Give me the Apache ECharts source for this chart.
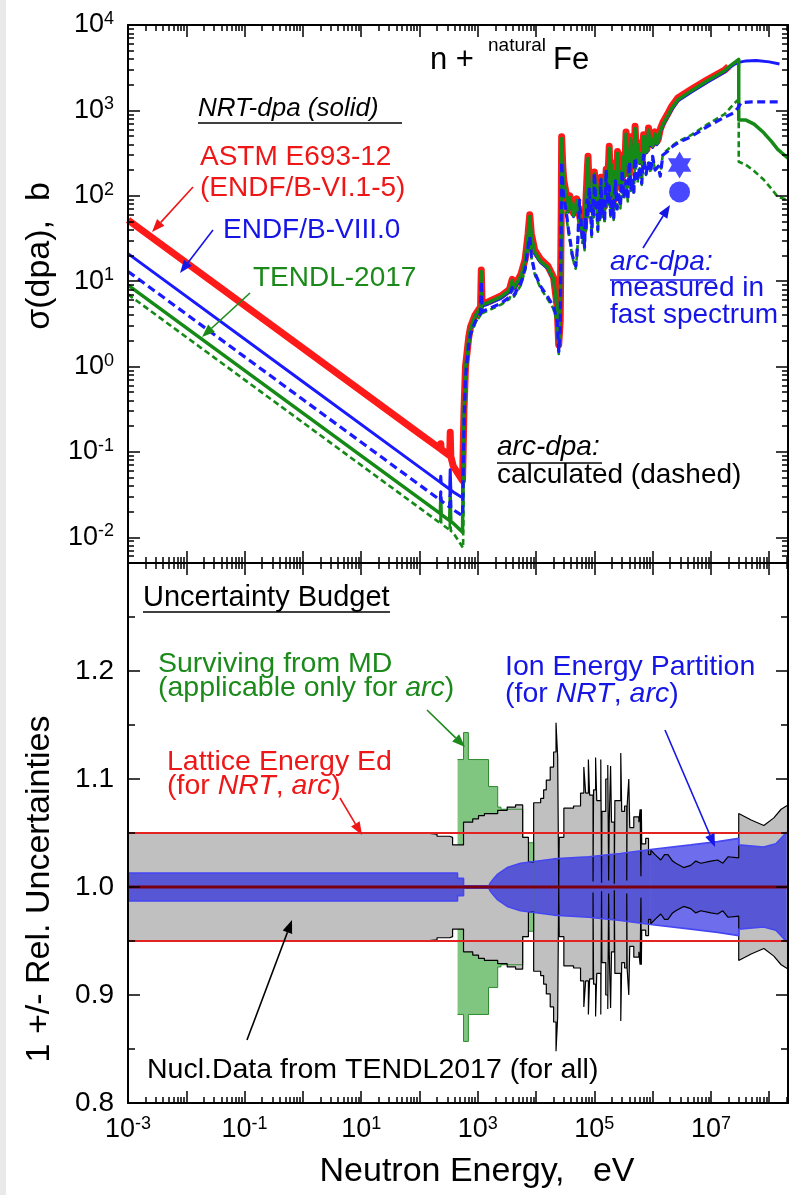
<!DOCTYPE html>
<html>
<head>
<meta charset="utf-8">
<title>n + natural Fe: dpa cross sections and uncertainty budget</title>
<script src="https://cdn.jsdelivr.net/npm/echarts@6/dist/echarts.min.js"></script>
<style>
  html, body { margin: 0; padding: 0; background: #fff; }
  #chart { width: 792px; height: 1195px; }
</style>
</head>
<body>
<div id="chart"></div>
<script>
// ---------------- axis ranges ----------------
const E_MIN = 1e-3, E_MAX = 2.1e8;        // neutron energy, eV
const SIG_MIN = 0.005, SIG_MAX = 1e4;     // sigma(dpa), b
const REL_MIN = 0.8, REL_MAX = 1.3;       // 1 +/- relative uncertainty

// tick positions (decade exponents / linear values)
const xDecades = [-3, -2, -1, 0, 1, 2, 3, 4, 5, 6, 7, 8];
const xLabelDecades = [-3, -1, 1, 3, 5, 7];
const yDecades = [-2, -1, 0, 1, 2, 3, 4];
const relMajor = [0.8, 0.9, 1.0, 1.1, 1.2, 1.3];
const relMinor = [0.85, 0.95, 1.05, 1.15, 1.25];
const relLabels = [0.8, 0.9, 1.0, 1.1, 1.2];

// ---------------- upper panel: sigma(dpa) [E (eV), b] ----------------
// NRT-dpa, ASTM E693-12 (ENDF/B-VI.1-5)
const astmNrt = [
  [1e-3, 52], [1, 1.64], [100, 0.164], [228, 0.109], [232, 0.125], [236, 0.107], [330, 0.0905], [337, 0.17], [345, 0.0885], [380, 0.068],
  [548, 0.046], [580, 0.3], [616, 1.0], [700, 2.2], [751, 2.9], [900, 4.0], [1117, 5.0], [1150, 13.5], [1185, 5.4], [1500, 5.7],
  [2500, 6.7], [3500, 8.0], [3900, 10.5], [4200, 8.6], [5500, 12], [6500, 18], [7300, 36], [7800, 60], [8300, 36], [9500, 23],
  [1.2e4, 18], [1.6e4, 15], [2.0e4, 11], [2.3e4, 5], [2.45e4, 1.8], [2.6e4, 3.5], [2.7e4, 60],
  [2.75e4, 490], [2.85e4, 260], [2.9e4, 200], [3.0e4, 150], [3.2e4, 117], [3.4e4, 90], [3.6e4, 69], [3.8e4, 100], [4.0e4, 85], [4.2e4, 72],
  [4.4e4, 62], [4.7e4, 75], [5.0e4, 92], [5.2e4, 70], [5.5e4, 62], [5.8e4, 50], [6.0e4, 44], [6.3e4, 52], [6.5e4, 38], [6.8e4, 48],
  [7.0e4, 62], [7.2e4, 95], [7.4e4, 140], [7.6e4, 210], [7.8e4, 290], [8.0e4, 170], [8.2e4, 125], [8.5e4, 95], [8.8e4, 76], [9.2e4, 90],
  [9.5e4, 105], [9.8e4, 140], [1.0e5, 190], [1.05e5, 130], [1.1e5, 112], [1.15e5, 80], [1.2e5, 97], [1.25e5, 130], [1.3e5, 165], [1.35e5, 95],
  [1.4e5, 122], [1.5e5, 75], [1.6e5, 205], [1.7e5, 140], [1.8e5, 380], [1.87e5, 150], [1.95e5, 245], [2.0e5, 110], [2.1e5, 170], [2.2e5, 90],
  [2.3e5, 205], [2.4e5, 130], [2.5e5, 330], [2.65e5, 150], [2.8e5, 200], [2.95e5, 120], [3.1e5, 300], [3.3e5, 180], [3.5e5, 560], [3.65e5, 250],
  [3.8e5, 330], [4.0e5, 180], [4.2e5, 490], [4.4e5, 260], [4.6e5, 350], [4.8e5, 230], [5.0e5, 650], [5.25e5, 300], [5.5e5, 420], [5.9e5, 260],
  [6.3e5, 330], [6.6e5, 250], [7.0e5, 520], [7.3e5, 330], [7.6e5, 450], [8.0e5, 350], [8.5e5, 620], [9.0e5, 420], [9.5e5, 480], [1.0e6, 400],
  [1.1e6, 560], [1.18e6, 430], [1.25e6, 460], [1.35e6, 600], [1.5e6, 720],
  [1.8e6, 900], [2.1e6, 1100], [2.7e6, 1400], [4.5e6, 1740], [8.8e6, 2300], [1.7e7, 2950], [2.0e7, 3250]
];
// NRT-dpa, ENDF/B-VIII.0
const endf8Nrt = [
  [1e-3, 21], [1, 0.664], [100, 0.0664], [228, 0.044], [232, 0.052], [236, 0.0432], [330, 0.0366], [337, 0.062], [345, 0.0358], [380, 0.034],
  [548, 0.029], [580, 0.25], [616, 0.9], [700, 2.0], [751, 2.7], [900, 3.8], [1117, 4.7], [1150, 12.5], [1185, 5.1], [1500, 5.4],
  [2500, 6.3], [3500, 7.5], [3900, 9.8], [4200, 8.1], [5500, 11], [6500, 17], [7300, 33], [7800, 55], [8300, 33], [9500, 21],
  [1.2e4, 16.5], [1.6e4, 14], [2.0e4, 10.2], [2.3e4, 4.6], [2.45e4, 1.6], [2.6e4, 3.2], [2.7e4, 55],
  [2.75e4, 450], [2.85e4, 240], [2.9e4, 185], [3.0e4, 138], [3.2e4, 108], [3.4e4, 83], [3.6e4, 64], [3.8e4, 92], [4.0e4, 78], [4.2e4, 66],
  [4.4e4, 57], [4.7e4, 69], [5.0e4, 85], [5.2e4, 64], [5.5e4, 57], [5.8e4, 46], [6.0e4, 40], [6.3e4, 48], [6.5e4, 35], [6.8e4, 44],
  [7.0e4, 57], [7.2e4, 87], [7.4e4, 128], [7.6e4, 193], [7.8e4, 265], [8.0e4, 156], [8.2e4, 115], [8.5e4, 87], [8.8e4, 70], [9.2e4, 83],
  [9.5e4, 96], [9.8e4, 128], [1.0e5, 175], [1.05e5, 120], [1.1e5, 103], [1.15e5, 74], [1.2e5, 89], [1.25e5, 120], [1.3e5, 152], [1.35e5, 87],
  [1.4e5, 112], [1.5e5, 69], [1.6e5, 188], [1.7e5, 129], [1.8e5, 350], [1.87e5, 138], [1.95e5, 225], [2.0e5, 101], [2.1e5, 156], [2.2e5, 83],
  [2.3e5, 188], [2.4e5, 120], [2.5e5, 305], [2.65e5, 138], [2.8e5, 184], [2.95e5, 110], [3.1e5, 276], [3.3e5, 166], [3.5e5, 515], [3.65e5, 230],
  [3.8e5, 304], [4.0e5, 166], [4.2e5, 450], [4.4e5, 239], [4.6e5, 322], [4.8e5, 212], [5.0e5, 600], [5.25e5, 276], [5.5e5, 386], [5.9e5, 239],
  [6.3e5, 304], [6.6e5, 230], [7.0e5, 478], [7.3e5, 304], [7.6e5, 414], [8.0e5, 322], [8.5e5, 570], [9.0e5, 386], [9.5e5, 442], [1.0e6, 368],
  [1.1e6, 515], [1.18e6, 396], [1.25e6, 423], [1.35e6, 552], [1.5e6, 662],
  [1.8e6, 830], [2.1e6, 1010], [2.7e6, 1290], [4.5e6, 1620], [8.8e6, 2150], [1.7e7, 2800], [2.0e7, 3100],
  [2.5e7, 3450], [3.0e7, 3650], [4.0e7, 3800], [6.0e7, 3850], [1.0e8, 3700], [1.5e8, 3500]
];
// NRT-dpa, TENDL-2017
const tendlNrt = [
  [1e-3, 9], [1, 0.285], [100, 0.0285], [228, 0.0189], [232, 0.028], [236, 0.0185], [330, 0.0157], [337, 0.03], [345, 0.0153], [380, 0.0146],
  [548, 0.0115], [580, 0.28], [616, 0.95], [700, 2.1], [751, 2.8], [900, 3.9], [1117, 4.9], [1150, 13], [1185, 5.3], [1500, 5.6],
  [2500, 6.6], [3500, 7.8], [3900, 10.2], [4200, 8.4], [5500, 11.5], [6500, 17.5], [7300, 35], [7800, 57], [8300, 34], [9500, 22],
  [1.2e4, 17], [1.6e4, 14.5], [2.0e4, 10.6], [2.3e4, 4.8], [2.45e4, 1.7], [2.6e4, 3.3], [2.7e4, 57],
  [2.75e4, 470], [2.85e4, 250], [2.9e4, 190], [3.0e4, 143], [3.2e4, 112], [3.4e4, 86], [3.6e4, 66], [3.8e4, 96], [4.0e4, 81], [4.2e4, 69],
  [4.4e4, 59], [4.7e4, 72], [5.0e4, 88], [5.2e4, 67], [5.5e4, 59], [5.8e4, 48], [6.0e4, 42], [6.3e4, 50], [6.5e4, 37], [6.8e4, 46],
  [7.0e4, 60], [7.2e4, 90], [7.4e4, 132], [7.6e4, 200], [7.8e4, 275], [8.0e4, 162], [8.2e4, 118], [8.5e4, 90], [8.8e4, 73], [9.2e4, 86],
  [9.5e4, 99], [9.8e4, 133], [1.0e5, 180], [1.05e5, 124], [1.1e5, 106], [1.15e5, 77], [1.2e5, 92], [1.25e5, 124], [1.3e5, 157], [1.35e5, 90],
  [1.4e5, 116], [1.5e5, 72], [1.6e5, 194], [1.7e5, 133], [1.8e5, 360], [1.87e5, 143], [1.95e5, 232], [2.0e5, 105], [2.1e5, 161], [2.2e5, 86],
  [2.3e5, 194], [2.4e5, 124], [2.5e5, 315], [2.65e5, 143], [2.8e5, 190], [2.95e5, 114], [3.1e5, 285], [3.3e5, 171], [3.5e5, 530], [3.65e5, 238],
  [3.8e5, 313], [4.0e5, 171], [4.2e5, 465], [4.4e5, 247], [4.6e5, 332], [4.8e5, 219], [5.0e5, 615], [5.25e5, 285], [5.5e5, 398], [5.9e5, 247],
  [6.3e5, 313], [6.6e5, 238], [7.0e5, 493], [7.3e5, 313], [7.6e5, 427], [8.0e5, 332], [8.5e5, 588], [9.0e5, 400], [9.5e5, 455], [1.0e6, 380],
  [1.1e6, 530], [1.18e6, 410], [1.25e6, 436], [1.35e6, 570], [1.5e6, 683],
  [1.8e6, 855], [2.1e6, 1045], [2.7e6, 1330], [4.5e6, 1680], [8.8e6, 2240], [1.7e7, 2900], [2.0e7, 3200],
  [3.0e7, 3950], [3.0e7, 770], [4.0e7, 770], [5.5e7, 690], [8.0e7, 550], [1.1e8, 430], [1.4e8, 350], [2.1e8, 275]
];
// arc-dpa (calculated), ENDF/B-VIII.0
const endf8Arc = [
  [1e-3, 13], [1, 0.411], [100, 0.0411], [228, 0.0272], [232, 0.034], [236, 0.0268], [330, 0.0226], [337, 0.04], [345, 0.0221], [380, 0.021],
  [548, 0.0178], [580, 0.2], [616, 0.75], [700, 1.8], [751, 2.4], [900, 3.3], [1117, 4.2], [1150, 10], [1185, 4.4], [1500, 4.7],
  [2500, 5.5], [3500, 6.5], [3900, 8.4], [4200, 6.9], [5500, 9.4], [6500, 14], [7300, 25], [7800, 33], [8300, 20], [9500, 12.6],
  [1.2e4, 8.7], [1.6e4, 6.5], [2.0e4, 5.0], [2.3e4, 3.4], [2.45e4, 1.5], [2.6e4, 2.6], [2.7e4, 40],
  [2.75e4, 250], [2.85e4, 150], [2.9e4, 120], [3.0e4, 95], [3.2e4, 74], [3.4e4, 55], [3.6e4, 40], [3.8e4, 32], [4.0e4, 25], [4.2e4, 20],
  [4.4e4, 18], [4.6e4, 16], [4.8e4, 15], [5.0e4, 20], [5.2e4, 30], [5.4e4, 55], [5.6e4, 89], [5.8e4, 60], [6.0e4, 45], [6.2e4, 30],
  [6.5e4, 37], [6.8e4, 25], [7.0e4, 56], [7.2e4, 40], [7.5e4, 89], [7.8e4, 60], [8.2e4, 125], [8.5e4, 80], [8.7e4, 60], [9.0e4, 35],
  [9.5e4, 89], [9.8e4, 60], [1.0e5, 185], [1.05e5, 90], [1.1e5, 70], [1.15e5, 40], [1.2e5, 89], [1.25e5, 55], [1.3e5, 155], [1.35e5, 60],
  [1.4e5, 89], [1.5e5, 50], [1.6e5, 200], [1.7e5, 80], [1.8e5, 130], [1.9e5, 60], [2.0e5, 90], [2.15e5, 55], [2.3e5, 150], [2.45e5, 70],
  [2.6e5, 110], [2.8e5, 75], [3.0e5, 200], [3.2e5, 95], [3.5e5, 150], [3.75e5, 90], [4.0e5, 250], [4.25e5, 120], [4.5e5, 160], [4.75e5, 110],
  [5.0e5, 280], [5.5e5, 150], [6.0e5, 220], [6.5e5, 140], [7.0e5, 300], [7.7e5, 180], [8.5e5, 250], [9.2e5, 190], [1.0e6, 290], [1.1e6, 200],
  [1.25e6, 220], [1.35e6, 170], [1.5e6, 300], [1.8e6, 330], [2.1e6, 370], [2.7e6, 415], [4.5e6, 490], [8.8e6, 650], [1.7e7, 830], [2.5e7, 940],
  [2.9e7, 1070], [3.3e7, 1230], [5.0e7, 1260], [1.5e8, 1260]
];
// arc-dpa (calculated), TENDL-2017
const tendlArc = [
  [1e-3, 7], [1, 0.221], [100, 0.0221], [228, 0.0146], [232, 0.021], [236, 0.0144], [330, 0.0122], [337, 0.022], [345, 0.0119], [380, 0.0113],
  [560, 0.0075], [590, 0.2], [630, 0.72], [700, 1.7], [751, 2.3], [900, 3.2], [1117, 4.0], [1150, 9.5], [1185, 4.2], [1500, 4.5],
  [2500, 5.3], [3500, 6.2], [3900, 8.0], [4200, 6.6], [5500, 9.0], [6500, 13.5], [7300, 24], [7800, 31], [8300, 19], [9500, 12],
  [1.2e4, 8.2], [1.6e4, 6.1], [2.0e4, 4.7], [2.3e4, 3.2], [2.45e4, 1.4], [2.6e4, 2.4], [2.7e4, 37],
  [2.75e4, 230], [2.85e4, 140], [2.9e4, 110], [3.0e4, 88], [3.2e4, 68], [3.4e4, 50], [3.6e4, 37], [3.8e4, 30], [4.0e4, 24], [4.2e4, 19],
  [4.4e4, 17], [4.6e4, 15], [4.8e4, 14], [5.0e4, 19], [5.2e4, 28], [5.4e4, 50], [5.6e4, 80], [5.8e4, 56], [6.0e4, 42], [6.2e4, 28],
  [6.5e4, 34], [6.8e4, 23], [7.0e4, 52], [7.2e4, 37], [7.5e4, 82], [7.8e4, 56], [8.2e4, 115], [8.5e4, 74], [8.7e4, 56], [9.0e4, 33],
  [9.5e4, 82], [9.8e4, 56], [1.0e5, 170], [1.05e5, 84], [1.1e5, 66], [1.15e5, 38], [1.2e5, 84], [1.25e5, 52], [1.3e5, 145], [1.35e5, 57],
  [1.4e5, 84], [1.5e5, 47], [1.6e5, 185], [1.7e5, 76], [1.8e5, 122], [1.9e5, 57], [2.0e5, 86], [2.15e5, 52], [2.3e5, 140], [2.45e5, 66],
  [2.6e5, 104], [2.8e5, 71], [3.0e5, 188], [3.2e5, 90], [3.5e5, 142], [3.75e5, 86], [4.0e5, 235], [4.25e5, 114], [4.5e5, 152], [4.75e5, 105],
  [5.0e5, 265], [5.5e5, 143], [6.0e5, 210], [6.5e5, 134], [7.0e5, 290], [7.7e5, 175], [8.5e5, 245], [9.2e5, 185], [1.0e6, 285], [1.1e6, 200],
  [1.25e6, 225], [1.35e6, 175], [1.5e6, 310], [1.8e6, 345], [2.1e6, 380], [2.7e6, 430], [4.5e6, 510], [8.8e6, 690], [1.7e7, 900], [2.5e7, 1200],
  [3.0e7, 1350], [3.0e7, 250], [4.0e7, 230], [5.5e7, 195], [8.0e7, 155], [1.1e8, 120], [1.4e8, 97], [2.1e8, 89]
];
// arc-dpa measured in a fast spectrum
const measuredStar = [[2.9e6, 230]];
const measuredCircle = [[2.9e6, 111]];

// ---------------- lower panel: relative uncertainties [E (eV), half-width] ----------------
// nuclear data (TENDL-2017), histogram part
const nuclDevSteps = [
  [1e-3, 0.050], [120, 0.049], [200, 0.047], [330, 0.046], [370, 0.039], [570, 0.060], [820, 0.063], [1030, 0.066], [1300, 0.068], [2200, 0.071],
  [3200, 0.074], [4450, 0.076], [5900, 0.046], [7400, 0.023], [9100, 0.078], [1.2e4, 0.082], [1.35e4, 0.090], [1.5e4, 0.099], [1.75e4, 0.111], [2.0e4, 0.125],
  [2.2e4, 0.152], [2.35e4, 0.120], [2.45e4, 0.0], [2.5e4, 0.046], [3.0e4, 0.073], [4.4e4, 0.075], [5.8e4, 0.087], [6.6e4, 0.111], [7.1e4, 0.087], [7.9e4, 0.118],
  [8.3e4, 0.085], [9.5e4, 0.005], [9.7e4, 0.090], [1.05e5, 0.120], [1.1e5, 0.080], [1.29e5, 0.118], [1.33e5, 0.004], [1.35e5, 0.070], [1.57e5, 0.100], [1.7e5, 0.113],
  [1.76e5, 0.006], [1.8e5, 0.060], [1.9e5, 0.112], [1.97e5, 0.060], [2.2e5, 0.003], [2.25e5, 0.080], [2.84e5, 0.124], [2.95e5, 0.070], [3.3e5, 0.075], [3.6e5, 0.006],
  [3.65e5, 0.075], [3.9e5, 0.100], [4.05e5, 0.055], [4.75e5, 0.065], [5.8e5, 0.060], [6.1e5, 0.072], [6.3e5, 0.010], [6.4e5, 0.072], [6.5e5, 0.040], [7.6e5, 0.045],
  [8.5e5, 0.030], [9.3e5, 0.034]
];
// nuclear data (TENDL-2017), continuous part
const nuclDevSmooth = [
  [9.3e5, 0.034], [1.1e6, 0.030], [1.38e6, 0.025], [1.6e6, 0.030], [1.83e6, 0.030], [2.2e6, 0.024], [2.5e6, 0.022], [3.4e6, 0.018], [4.5e6, 0.020], [5.5e6, 0.024],
  [6.7e6, 0.022], [1.0e7, 0.024], [1.3e7, 0.025], [1.6e7, 0.022], [1.96e7, 0.028], [3.0e7, 0.027], [3.0e7, 0.068], [4.9e7, 0.062], [8.1e7, 0.057], [1.2e8, 0.064],
  [1.6e8, 0.072], [2.1e8, 0.076]
];
// surviving defects from MD (arc only)
const mdDev = [
  [450, 0.118], [570, 0.143], [690, 0.118], [1530, 0.093], [2200, 0.074], [2500, 0.072], [5900, 0.046], [7400, 0.041], [9100, 0.0]
];
// ion energy partition (NRT, arc)
const ionDev = [
  [1e-3, 0.013], [450, 0.013], [450, 0.008], [570, 0.008], [570, 0.001], [1550, 0.001], [1650, 0.004], [1900, 0.008], [2200, 0.012], [3200, 0.018],
  [5400, 0.022], [2e4, 0.026], [8e4, 0.028], [2.8e5, 0.031], [1e6, 0.035], [4.5e6, 0.039], [1.3e7, 0.042], [3.0e7, 0.045], [3.0e7, 0.039], [8e7, 0.037],
  [1.3e8, 0.040], [1.6e8, 0.045], [2.0e8, 0.051]
];
// lattice (displacement) energy Ed
const latticeDev = [[1e-3, 0.05], [2.0e8, 0.05]];
const unity = [[1e-3, 1.0], [2.1e8, 1.0]];

// ---------------- styling ----------------
const FONT = '"Liberation Sans", Arial, Helvetica, sans-serif';
const C_RED = '#ff1a1a', C_BLUE = '#1a1aff', C_GREEN = '#168a16';
const T_RED = '#ee1616', T_BLUE = '#1515e6', T_GREEN = '#1b8a1b';

const log10 = Math.log10;
const LX0 = log10(E_MIN), LX1 = log10(E_MAX);
const LY0 = log10(SIG_MIN), LY1 = log10(SIG_MAX);

function minorLogTicks(lo, hi) {
  const out = [];
  for (let n = Math.floor(lo); n < Math.ceil(hi); n++) {
    for (let k = 2; k <= 9; k++) {
      const v = n + log10(k);
      if (v > lo && v < hi) out.push(v);
    }
  }
  return out;
}
const xMinor = minorLogTicks(LX0, LX1);
const yMinor = minorLogTicks(LY0, LY1);

const powRich = {
  b: { fontSize: 27, fontFamily: FONT, color: '#000', lineHeight: 30 },
  s: { fontSize: 18, fontFamily: FONT, color: '#000', lineHeight: 16, verticalAlign: 'top' }
};
const powFormatter = v => '{b|10}{s|' + Math.round(v) + '}';

// decorative axis drawing ticks/labels in the same coordinate space as a data axis
function decoAxis(grid, pos, min, max, ticks, len, withLine, label) {
  return {
    gridIndex: grid, type: 'value', position: pos, min: min, max: max, z: 10, silent: true,
    axisLine: { show: withLine, onZero: false, lineStyle: { color: '#000', width: 2 } },
    axisTick: { show: true, inside: true, length: len, customValues: ticks, lineStyle: { color: '#000', width: 1.5 } },
    axisLabel: label || { show: false },
    splitLine: { show: false }, minorTick: { show: false }, minorSplitLine: { show: false }
  };
}
function dataLogAxis(grid, min, max) {
  return {
    gridIndex: grid, type: 'log', logBase: 10, min: min, max: max, show: false,
    axisLine: { onZero: false }, splitLine: { show: false }
  };
}

const xAxes = [
  dataLogAxis(0, E_MIN, E_MAX),
  decoAxis(0, 'bottom', LX0, LX1, xDecades, 12, true),
  decoAxis(0, 'bottom', LX0, LX1, xMinor, 6, false),
  decoAxis(0, 'top', LX0, LX1, xDecades, 12, true),
  decoAxis(0, 'top', LX0, LX1, xMinor, 6, false),
  dataLogAxis(1, E_MIN, E_MAX),
  decoAxis(1, 'bottom', LX0, LX1, xDecades, 12, true, {
    show: true, customValues: xLabelDecades, formatter: powFormatter, rich: powRich, margin: 12
  }),
  decoAxis(1, 'bottom', LX0, LX1, xMinor, 6, false),
  decoAxis(1, 'top', LX0, LX1, xDecades, 12, true),
  decoAxis(1, 'top', LX0, LX1, xMinor, 6, false)
];

const relAxis = decoAxis(1, 'left', REL_MIN, REL_MAX, relMajor, 12, true, {
  show: true, customValues: relLabels, formatter: v => v.toFixed(1),
  fontSize: 28, fontFamily: FONT, color: '#000', margin: 14
});

const yAxes = [
  dataLogAxis(0, SIG_MIN, SIG_MAX),
  decoAxis(0, 'left', LY0, LY1, yDecades, 12, true, {
    show: true, customValues: yDecades, formatter: powFormatter, rich: powRich, margin: 14
  }),
  decoAxis(0, 'left', LY0, LY1, yMinor, 6, false),
  decoAxis(0, 'right', LY0, LY1, yDecades, 12, true),
  decoAxis(0, 'right', LY0, LY1, yMinor, 6, false),
  relAxis,
  decoAxis(1, 'left', REL_MIN, REL_MAX, relMinor, 7, false),
  decoAxis(1, 'right', REL_MIN, REL_MAX, relMajor, 12, true),
  decoAxis(1, 'right', REL_MIN, REL_MAX, relMinor, 7, false)
];

// ---------------- series ----------------
function curve(name, data, color, width, dash) {
  return {
    name: name, type: 'line', xAxisIndex: 0, yAxisIndex: 0, data: data,
    showSymbol: false, symbol: 'none', silent: true, animation: false,
    lineStyle: { color: color, width: width, type: dash || 'solid', join: 'round' }
  };
}
// one side of a band filled toward 1.0
function bandSide(name, dev, sign, fill, stroke, lw, step) {
  return {
    name: name, type: 'line', xAxisIndex: 5, yAxisIndex: 5,
    data: dev.map(p => [p[0], 1 + sign * p[1]]),
    step: step ? 'end' : false, showSymbol: false, symbol: 'none', silent: true,
    lineStyle: { color: stroke, width: lw },
    areaStyle: { color: fill, origin: 1, opacity: 1 }
  };
}
function hline(name, data, color, width) {
  return {
    name: name, type: 'line', xAxisIndex: 5, yAxisIndex: 5, data: data,
    showSymbol: false, symbol: 'none', silent: true,
    lineStyle: { color: color, width: width }
  };
}

const STAR = 'path://M0,-10L8.66,5L-8.66,5Z M0,10L-8.66,-5L8.66,-5Z';
const ION_FILL = 'rgba(28,28,226,0.64)';

const series = [
  // upper panel
  curve('ASTM E693-12 NRT', astmNrt, C_RED, 7),
  curve('ENDF/B-VIII.0 NRT', endf8Nrt, C_BLUE, 3),
  curve('TENDL-2017 NRT', tendlNrt, C_GREEN, 3.5),
  curve('TENDL-2017 arc', tendlArc, C_GREEN, 2.6, [6, 3.5]),
  curve('ENDF/B-VIII.0 arc', endf8Arc, C_BLUE, 3.2, [8, 4.5]),
  {
    name: 'arc measured (star)', type: 'scatter', xAxisIndex: 0, yAxisIndex: 0, data: measuredStar,
    symbol: STAR, symbolKeepAspect: true, symbolSize: 27, itemStyle: { color: C_BLUE }, silent: true
  },
  {
    name: 'arc measured (circle)', type: 'scatter', xAxisIndex: 0, yAxisIndex: 0, data: measuredCircle,
    symbol: 'circle', symbolSize: 21, itemStyle: { color: C_BLUE }, silent: true
  },
  // lower panel
  bandSide('MD upper', mdDev, 1, '#80c680', '#2e8b2e', 1, true),
  bandSide('MD lower', mdDev, -1, '#80c680', '#2e8b2e', 1, true),
  bandSide('Nucl. data upper', nuclDevSteps, 1, '#c0c0c0', '#000', 1.2, true),
  bandSide('Nucl. data lower', nuclDevSteps, -1, '#c0c0c0', '#000', 1.2, true),
  bandSide('Nucl. data upper (cont.)', nuclDevSmooth, 1, '#c0c0c0', '#000', 1.2, false),
  bandSide('Nucl. data lower (cont.)', nuclDevSmooth, -1, '#c0c0c0', '#000', 1.2, false),
  bandSide('Ion energy upper', ionDev, 1, ION_FILL, '#4646f2', 1.6, false),
  bandSide('Ion energy lower', ionDev, -1, ION_FILL, '#4646f2', 1.6, false),
  hline('Ed upper', latticeDev.map(p => [p[0], 1 + p[1]]), '#e52222', 2.2),
  hline('Ed lower', latticeDev.map(p => [p[0], 1 - p[1]]), '#e52222', 2.2),
  hline('unity', unity, '#7a0010', 3)
];

// ---------------- annotations ----------------
function txt(text, x, y, size, color, opts) {
  opts = opts || {};
  const align = opts.align || 'left';
  const style = {
    text: text, fill: color, fontSize: size, fontFamily: FONT,
    fontStyle: opts.italic ? 'italic' : 'normal',
    align: align, verticalAlign: 'middle', textAlign: align, textVerticalAlign: 'middle'
  };
  if (opts.italicWord) {
    style.rich = { i: { fontStyle: 'italic', fontSize: size, fontFamily: FONT, fill: color } };
  }
  return { type: 'text', x: x, y: y, rotation: opts.rotation || 0, z: 100, silent: true, style: style };
}
function uline(x1, x2, y, color) {
  return { type: 'line', z: 100, silent: true, shape: { x1: x1, y1: y, x2: x2, y2: y }, style: { stroke: color, lineWidth: 1.6 } };
}
function arrow(x1, y1, x2, y2, color, w) {
  const a = Math.atan2(y2 - y1, x2 - x1), L = 13, H = 5;
  const bx = x2 - L * Math.cos(a), by = y2 - L * Math.sin(a);
  const nx = -Math.sin(a) * H, ny = Math.cos(a) * H;
  return [
    { type: 'line', z: 100, silent: true, shape: { x1: x1, y1: y1, x2: bx, y2: by }, style: { stroke: color, lineWidth: w } },
    { type: 'polygon', z: 100, silent: true, shape: { points: [[x2, y2], [bx + nx, by + ny], [bx - nx, by - ny]] }, style: { fill: color } }
  ];
}

const graphics = [
  { type: 'rect', z: 0, silent: true, shape: { x: 0, y: 0, width: 6, height: 1195 }, style: { fill: '#e9e9e9' } },
  // upper panel
  txt('n +', 430, 60, 31, '#000'),
  txt('natural', 488, 46, 19, '#000'),
  txt('Fe', 553, 60, 31, '#000'),
  txt('NRT-dpa (solid)', 198, 109, 26, '#000', { italic: true }), uline(198, 402, 123, '#000'),
  txt('ASTM E693-12', 200, 157, 28, T_RED),
  txt('(ENDF/B-VI.1-5)', 200, 188, 28, T_RED),
  txt('ENDF/B-VIII.0', 223, 230, 28, T_BLUE),
  txt('TENDL-2017', 253, 278, 28, T_GREEN),
  txt('arc-dpa:', 610, 262, 28, T_BLUE, { italic: true }), uline(610, 716, 280, T_BLUE),
  txt('measured in', 610, 288, 28, T_BLUE),
  txt('fast spectrum', 610, 315, 28, T_BLUE),
  txt('arc-dpa:', 497, 447, 28, '#000', { italic: true }), uline(497, 602, 463, '#000'),
  txt('calculated (dashed)', 497, 475, 28, '#000'),
  ...arrow(193, 187, 152, 232, T_RED, 1.6),
  ...arrow(213, 230, 180, 273, T_BLUE, 1.6),
  ...arrow(250, 293, 202, 337, T_GREEN, 1.6),
  ...arrow(643, 248, 670, 205, T_BLUE, 1.6),
  // lower panel
  txt('Uncertainty Budget', 143, 598, 29, '#000'), uline(143, 390, 612, '#000'),
  txt('Surviving from MD', 158, 664, 28.5, T_GREEN),
  txt('(applicable only for {i|arc})', 158, 688, 28.5, T_GREEN, { italicWord: true }),
  txt('Lattice Energy Ed', 167, 762, 28.5, T_RED),
  txt('(for {i|NRT}, {i|arc})', 167, 786, 28.5, T_RED, { italicWord: true }),
  txt('Ion Energy Partition', 505, 667, 28.5, T_BLUE),
  txt('(for {i|NRT}, {i|arc})', 505, 694, 28.5, T_BLUE, { italicWord: true }),
  txt('Nucl.Data from TENDL2017 (for all)', 147, 1070, 28.5, '#000'),
  ...arrow(427, 710, 465, 747, T_GREEN, 1.6),
  ...arrow(340, 798, 362, 835, T_RED, 1.6),
  ...arrow(665, 730, 715, 847, T_BLUE, 1.6),
  ...arrow(247, 1040, 292, 920, '#000', 1.6),
  // axis titles
  txt('Neutron Energy,   eV', 477, 1172, 34, '#000', { align: 'center' }),
  txt('σ(dpa),  b', 40, 256, 34, '#000', { align: 'center', rotation: Math.PI / 2 }),
  txt('1 +/- Rel. Uncertainties', 40, 889, 34, '#000', { align: 'center', rotation: Math.PI / 2 })
];

const chart = echarts.init(document.getElementById('chart'), null, { renderer: 'canvas', width: 792, height: 1195 });
chart.setOption({
  animation: false,
  backgroundColor: '#ffffff',
  grid: [
    { left: 128, right: 4, top: 25, height: 538, containLabel: false },
    { left: 128, right: 4, top: 563, height: 540, containLabel: false }
  ],
  xAxis: xAxes,
  yAxis: yAxes,
  series: series,
  graphic: { elements: graphics }
});
</script>
</body>
</html>
